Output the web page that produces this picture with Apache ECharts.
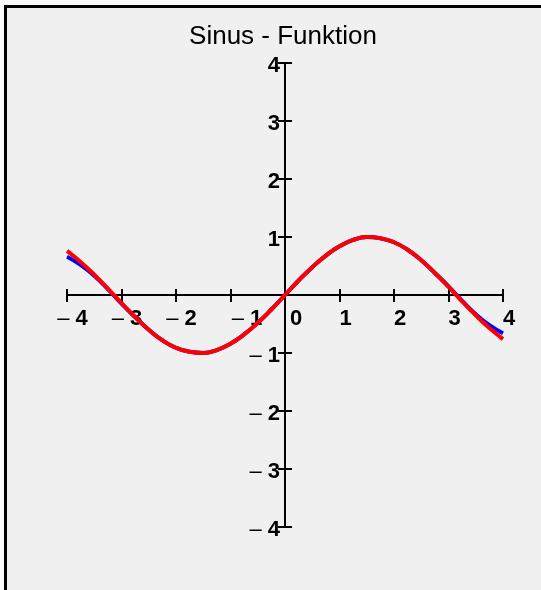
<!DOCTYPE html>
<html>
<head>
<meta charset="utf-8">
<script src="https://cdn.jsdelivr.net/npm/echarts@6/dist/echarts.min.js"></script>
<style>
  html, body { margin: 0; padding: 0; background: #fafafa; }
  #main { width: 541px; height: 590px; }
</style>
</head>
<body>
<div id="main"></div>
<script>
var myChart = echarts.init(document.getElementById('main'));

// x positions (step 0.25)
var xs = [-4, -3.75, -3.5, -3.25, -3, -2.75, -2.5, -2.25, -2, -1.75, -1.5, -1.25, -1, -0.75, -0.5, -0.25,
          0, 0.25, 0.5, 0.75, 1, 1.25, 1.5, 1.75, 2, 2.25, 2.5, 2.75, 3, 3.25, 3.5, 3.75, 4];
// red curve (sinus)
var sinusVals = [0.76, 0.57, 0.35, 0.11, -0.14, -0.38, -0.60, -0.78, -0.91, -0.98, -1.00, -0.95, -0.84, -0.68, -0.48, -0.25,
                 0, 0.25, 0.48, 0.68, 0.84, 0.95, 1.00, 0.98, 0.91, 0.78, 0.60, 0.38, 0.14, -0.11, -0.35, -0.57, -0.76];
// blue curve (approximation, drifts off at the ends)
var naeherungVals = [0.66, 0.52, 0.33, 0.10, -0.15, -0.38, -0.60, -0.78, -0.91, -0.98, -1.00, -0.95, -0.84, -0.68, -0.48, -0.25,
                     0, 0.25, 0.48, 0.68, 0.84, 0.95, 1.00, 0.98, 0.91, 0.78, 0.60, 0.38, 0.15, -0.10, -0.33, -0.52, -0.66];

var pairs = function (vals) {
    var res = [];
    for (var i = 0; i < xs.length; i++) {
        res.push([xs[i], vals[i]]);
    }
    return res;
};

var fnt = 'Liberation Sans, Arial, sans-serif';
var lbl = function (v, pre) {
    // thin minus, bold digit
    return v < 0 ? '{' + pre + 'm|\u2013 }{' + pre + 'n|' + (-v) + '}' : '{' + pre + 'd|' + v + '}';
};
var dStyle = function (pad) {
    return { fontFamily: fnt, fontSize: 22, fontWeight: 'bold', color: '#000', padding: pad };
};
var mStyle = function (pad) {
    return { fontFamily: fnt, fontSize: 22, fontWeight: 'normal', color: '#000', padding: pad };
};
var blackLine = { color: '#000', width: 2 };

// axes are moved to the zero cross with offsets (grid 436 x 464)
var xOff = -232, yOff = -218;

option = {
    backgroundColor: '#fafafa',
    animation: false,
    graphic: [{
        type: 'rect',
        z: -10,
        shape: { x: 5.5, y: 6.5, width: 620, height: 620 },
        style: { fill: '#f0f0f0', stroke: '#000', lineWidth: 3 }
    }],
    title: {
        text: 'Sinus - Funktion',
        left: 278,
        textAlign: 'center',
        top: 19,
        textStyle: { fontFamily: fnt, fontSize: 26, fontWeight: 'normal', color: '#000' }
    },
    grid: { left: 67, right: 38, top: 63, bottom: 63 },
    xAxis: [{
        type: 'value', min: -4, max: 4, interval: 1, position: 'bottom', offset: xOff,
        axisLine: { onZero: false, lineStyle: blackLine },
        axisTick: { length: 7, lineStyle: blackLine },
        splitLine: { show: false },
        axisLabel: {
            margin: 13,
            formatter: function (v) {
                if (v === -1) return lbl(v, 'b');
                if (v === 0) return lbl(v, 'c');
                return lbl(v, 'a');
            },
            rich: {
                am: mStyle([0, 0, 0, 11]), an: dStyle([0, 0, 0, 0]), ad: dStyle([0, 0, 0, 12]),
                bm: mStyle([0, 0, 0, 33]), bn: dStyle([0, 0, 0, 0]),
                cd: dStyle([0, 0, 0, 22])
            }
        }
    }, {
        type: 'value', min: -4, max: 4, interval: 1, position: 'bottom', offset: xOff,
        axisLine: { onZero: false, lineStyle: blackLine },
        axisTick: { inside: true, length: 6, lineStyle: blackLine },
        splitLine: { show: false },
        axisLabel: { show: false }
    }],
    yAxis: [{
        type: 'value', min: -4, max: 4, interval: 1, position: 'left', offset: yOff,
        axisLine: { onZero: false, lineStyle: blackLine },
        axisTick: { length: 7, lineStyle: blackLine },
        splitLine: { show: false },
        axisLabel: {
            margin: 5,
            formatter: function (v) { return v === 0 ? '' : lbl(v, 'y'); },
            rich: { ym: mStyle([6, 0, 0, 0]), yn: dStyle([6, 0, 0, 0]), yd: dStyle([6, 0, 0, 0]) }
        }
    }, {
        type: 'value', min: -4, max: 4, interval: 1, position: 'left', offset: yOff,
        axisLine: { onZero: false, lineStyle: blackLine },
        axisTick: { inside: true, length: 7, lineStyle: blackLine },
        splitLine: { show: false },
        axisLabel: { show: false }
    }],
    series: [{
        name: 'Näherung',
        type: 'line',
        smooth: true,
        symbol: 'none',
        lineStyle: { color: '#0000ff', width: 4 },
        data: pairs(naeherungVals)
    }, {
        name: 'Sinus',
        type: 'line',
        smooth: true,
        symbol: 'none',
        lineStyle: { color: '#ff0000', width: 4 },
        data: pairs(sinusVals)
    }]
};

myChart.setOption(option);
</script>
</body>
</html>
